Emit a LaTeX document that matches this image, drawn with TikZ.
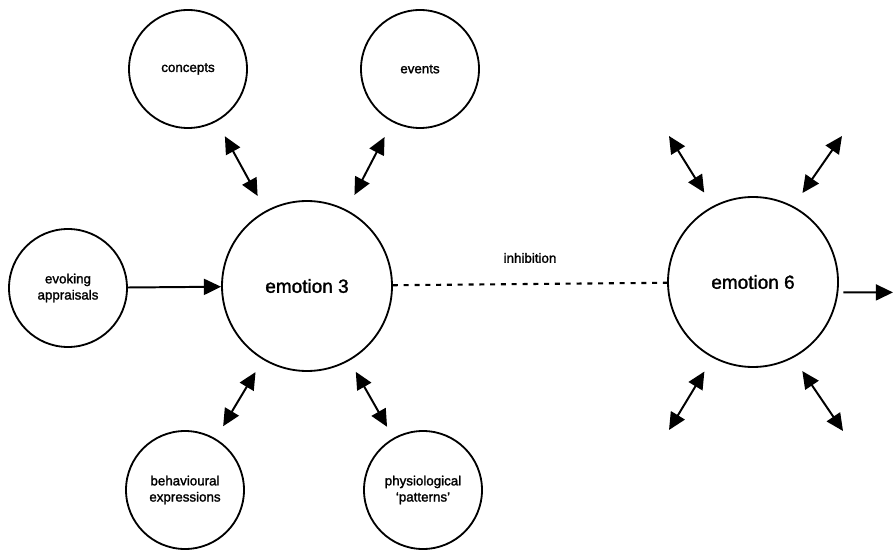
\documentclass[tikz,border=0pt]{standalone}
\usepackage{fontspec}
\setmainfont{Liberation Sans}
\newfontfamily\heavy{Liberation Sans}[Ligatures=TeX, FakeBold=1.6]
\usetikzlibrary{arrows.meta,positioning}
\tikzset{
  emo/.style  = {circle, draw, line width=1.3pt, minimum size=4.25cm, inner sep=0pt,
                 font=\heavy\fontsize{13.5}{16}\selectfont},
  cmp/.style  = {circle, draw, line width=1.3pt, minimum size=2.95cm, inner sep=0pt,
                 align=center, font=\heavy\fontsize{9.5}{11.5}\selectfont},
  ar/.style   = {-{Triangle[length=4.3mm,width=4mm]}, line width=1.4pt},
  arr/.style  = {{Triangle[length=4.3mm,width=4mm]}-{Triangle[length=4.3mm,width=4mm]},
                 line width=1.4pt},
  inh/.style  = {line width=1.5pt, dash pattern=on 1.25mm off 1.45mm},
  lbl/.style  = {font=\heavy\fontsize{9.5}{11.5}\selectfont},
}

\begin{document}
\begin{tikzpicture}
  \useasboundingbox (0,0) rectangle (22.325,-13.75);
  \node[emo] (emo3) at (7.675,-7.15)  {emotion 3};
  \node[emo] (emo6) at (18.825,-7.05) {emotion 6};
  \node[cmp] (conc) at (4.7,-1.725)   {concepts};
  \node[cmp] (evts) at (10.5,-1.725)  {events};
  \node[cmp] (evok) at (1.7,-7.2)     {evoking\\appraisals};
  \node[cmp] (behv) at (4.625,-12.25) {behavioural\\expressions};
  \node[cmp] (phys) at (10.575,-12.25){physiological\\‘patterns’};
  % loose ends around emotion 6
  \coordinate (o1) at (16.725,-3.4);
  \coordinate (o2) at (21.05,-3.4);
  \coordinate (o3) at (16.725,-10.75);
  \coordinate (o4) at (21.075,-10.775);
  \coordinate (out) at (22.325,-7.31);
  \draw[ar] (evok) -- (emo3);
  \draw[arr, shorten <=0.42cm, shorten >=0.42cm] (conc) -- (emo3);
  \draw[arr, shorten <=0.42cm, shorten >=0.42cm] (evts) -- (emo3);
  \draw[arr, shorten <=0.36cm, shorten >=0.36cm] (behv) -- (emo3);
  \draw[arr, shorten <=0.32cm, shorten >=0.32cm] (phys) -- (emo3);
  \draw[inh] (emo3) -- (emo6);
  \node[lbl] (inhl) at (13.25,-6.45) {inhibition};
  \draw[arr, shorten <=0.4cm] (emo6.118) -- (o1);
  \draw[arr, shorten <=0.4cm] (emo6.62)  -- (o2);
  \draw[arr, shorten <=0.4cm] (emo6.242) -- (o3);
  \draw[arr, shorten <=0.4cm] (emo6.298) -- (o4);
  \draw[ar, shorten <=0.13cm] (emo6.-7) -- (out);
\end{tikzpicture}
\end{document}
